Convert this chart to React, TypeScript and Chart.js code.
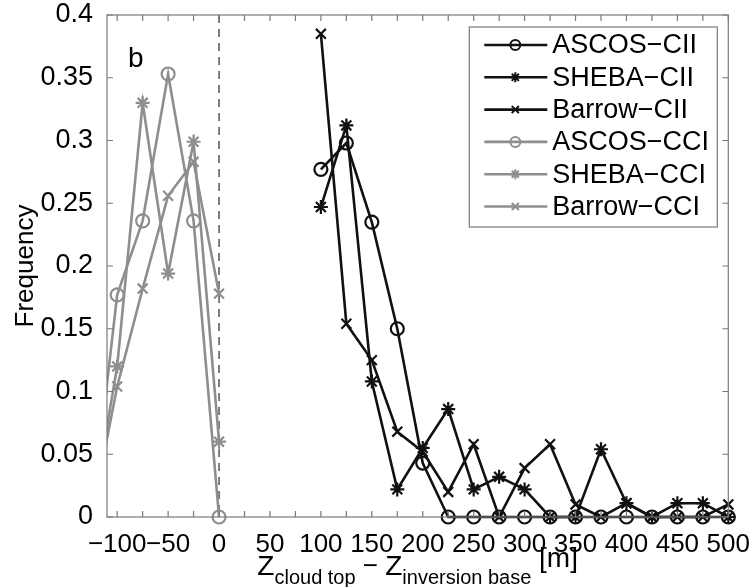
import React, { useEffect, useRef } from 'react';
import { Chart, registerables } from 'chart.js';

Chart.register(...registerables);

// ---- data ----
const cciX = [-125, -100, -75, -50, -25, 0];
const ascosCCI = [0, 0.177, 0.236, 0.353, 0.236, 0];
const shebaCCI = [0, 0.12, 0.33, 0.194, 0.299, 0.06];
const barrowCCI = [0, 0.104, 0.182, 0.256, 0.283, 0.178];

const ciiX = [100, 125, 150, 175, 200, 225, 250, 275, 300, 325, 350, 375, 400, 425, 450, 475, 500];
const ascosCII = [0.277, 0.298, 0.235, 0.15, 0.043, 0, 0, 0, 0, 0, 0, 0, 0, 0, 0, 0, 0];
const shebaCII = [0.247, 0.312, 0.108, 0.022, 0.055, 0.086, 0.022, 0.032, 0.022, 0, 0, 0.054, 0.011, 0, 0.011, 0.011, 0];
const barrowCII = [0.385, 0.154, 0.125, 0.068, 0.052, 0.02, 0.058, 0, 0.039, 0.058, 0.01, 0, 0.011, 0, 0, 0, 0.01];

const xTickLabels = [-100, -50, 0, 50, 100, 150, 200, 250, 300, 350, 400, 450, 500];
const xMinorTicks = [-100, -75, -50, -25, 0, 25, 50, 75, 100, 125, 150, 175, 200, 225, 250, 275, 300, 325, 350, 375, 400, 425, 450, 475, 500];
const yTickLabels = [0, 0.05, 0.1, 0.15, 0.2, 0.25, 0.3, 0.35, 0.4];

const FONT = "'Liberation Sans', Arial, Helvetica, sans-serif";
const BLACK = '#111111';
const GRAY = '#8e8e8e';

const toPts = (xs: number[], ys: number[]) => xs.map((x, i) => ({ x, y: ys[i] }));

function drawMarker(ctx: CanvasRenderingContext2D, style: string, x: number, y: number, r: number) {
  ctx.beginPath();
  if (style === 'circle') {
    ctx.arc(x, y, r, 0, Math.PI * 2);
  } else if (style === 'star') {
    for (let k = 0; k < 4; k++) {
      const a = (k * Math.PI) / 4;
      ctx.moveTo(x - r * Math.cos(a), y - r * Math.sin(a));
      ctx.lineTo(x + r * Math.cos(a), y + r * Math.sin(a));
    }
  } else {
    const d = r * Math.SQRT1_2;
    ctx.moveTo(x - d, y - d);
    ctx.lineTo(x + d, y + d);
    ctx.moveTo(x - d, y + d);
    ctx.lineTo(x + d, y - d);
  }
  ctx.stroke();
}

const decorPlugin = {
  id: 'decor',
  beforeDatasetsDraw(chart: any) {
    const { ctx, chartArea, scales } = chart;
    const x0 = scales.x.getPixelForValue(0);
    ctx.save();
    ctx.strokeStyle = '#000';
    ctx.lineWidth = 1;
    ctx.setLineDash([8, 6]);
    ctx.beginPath();
    ctx.moveTo(x0, chartArea.top);
    ctx.lineTo(x0, chartArea.bottom);
    ctx.stroke();
    ctx.restore();
  },
  afterDraw(chart: any) {
    const { ctx, chartArea, scales } = chart;
    const { left, right, top, bottom } = chartArea;
    ctx.save();
    // frame
    ctx.strokeStyle = '#7a7a7a';
    ctx.lineWidth = 1.2;
    ctx.strokeRect(left, top, right - left, bottom - top);
    // ticks
    const tl = 6;
    ctx.beginPath();
    xMinorTicks.forEach((v) => {
      const px = scales.x.getPixelForValue(v);
      ctx.moveTo(px, bottom);
      ctx.lineTo(px, bottom - tl);
      ctx.moveTo(px, top);
      ctx.lineTo(px, top + tl);
    });
    yTickLabels.forEach((v) => {
      const py = scales.y.getPixelForValue(v);
      ctx.moveTo(left, py);
      ctx.lineTo(left + tl, py);
      ctx.moveTo(right, py);
      ctx.lineTo(right - tl, py);
    });
    ctx.stroke();

    // panel letter
    ctx.fillStyle = '#000';
    ctx.font = `28px ${FONT}`;
    ctx.textBaseline = 'alphabetic';
    ctx.textAlign = 'left';
    ctx.fillText('b', left + 21, top + 52);

    // legend
    const bx1 = right - 259;
    const bx2 = right - 11;
    const by1 = top + 12;
    const by2 = top + 212;
    ctx.fillStyle = '#fff';
    ctx.fillRect(bx1, by1, bx2 - bx1, by2 - by1);
    ctx.strokeStyle = '#7a7a7a';
    ctx.lineWidth = 1.2;
    ctx.strokeRect(bx1, by1, bx2 - bx1, by2 - by1);
    ctx.font = `27px ${FONT}`;
    ctx.textBaseline = 'middle';
    chart.data.datasets.forEach((ds: any, i: number) => {
      const cy = by1 + 18 + i * 32.3;
      ctx.strokeStyle = ds.borderColor;
      ctx.lineWidth = ds.borderWidth;
      ctx.beginPath();
      ctx.moveTo(bx1 + 15, cy);
      ctx.lineTo(bx1 + 78, cy);
      ctx.stroke();
      ctx.lineWidth = 2;
      drawMarker(ctx, ds.pointStyle, bx1 + 46, cy, 5);
      ctx.fillStyle = '#000';
      ctx.fillText(ds.label, bx1 + 83, cy + 1);
    });

    // x axis title with subscripts
    const segs = [
      { t: 'Z', s: 28, dy: 0 },
      { t: 'cloud top', s: 20, dy: 9 },
      { t: ' \u2212 ', s: 26, dy: -1 },
      { t: 'Z', s: 28, dy: 0 },
      { t: 'inversion base', s: 20, dy: 9 },
      { t: ' [m]', s: 28, dy: -8 },
    ];
    ctx.textBaseline = 'alphabetic';
    let total = 0;
    segs.forEach((sg) => {
      ctx.font = `${sg.s}px ${FONT}`;
      total += ctx.measureText(sg.t).width;
    });
    let cx = (left + right) / 2 - total / 2;
    const base = 575;
    ctx.fillStyle = '#000';
    segs.forEach((sg) => {
      ctx.font = `${sg.s}px ${FONT}`;
      ctx.fillText(sg.t, cx, base + sg.dy);
      cx += ctx.measureText(sg.t).width;
    });
    ctx.restore();
  },
};

export default function App() {
  const ref = useRef<HTMLCanvasElement | null>(null);
  useEffect(() => {
    if (!ref.current) return;
    const common = {
      borderWidth: 2.6,
      pointBorderWidth: 2.2,
      pointBackgroundColor: 'rgba(0,0,0,0)',
      showLine: true,
      fill: false,
      tension: 0,
      clip: { left: 0, top: 10, right: 10, bottom: 10 },
    };
    const chart = new Chart(ref.current, {
      type: 'scatter',
      data: {
        datasets: [
          { ...common, label: 'ASCOS\u2212CII', data: toPts(ciiX, ascosCII), borderColor: BLACK, pointBorderColor: BLACK, pointStyle: 'circle', pointRadius: 6.5 },
          { ...common, label: 'SHEBA\u2212CII', data: toPts(ciiX, shebaCII), borderColor: BLACK, pointBorderColor: BLACK, pointStyle: 'star', pointRadius: 7 },
          { ...common, label: 'Barrow\u2212CII', data: toPts(ciiX, barrowCII), borderColor: BLACK, pointBorderColor: BLACK, pointStyle: 'crossRot', pointRadius: 7 },
          { ...common, label: 'ASCOS\u2212CCI', data: toPts(cciX, ascosCCI), borderColor: GRAY, pointBorderColor: GRAY, pointStyle: 'circle', pointRadius: 6.5 },
          { ...common, label: 'SHEBA\u2212CCI', data: toPts(cciX, shebaCCI), borderColor: GRAY, pointBorderColor: GRAY, pointStyle: 'star', pointRadius: 7 },
          { ...common, label: 'Barrow\u2212CCI', data: toPts(cciX, barrowCCI), borderColor: GRAY, pointBorderColor: GRAY, pointStyle: 'crossRot', pointRadius: 7 },
        ] as any,
      },
      options: {
        animation: false,
        responsive: true,
        maintainAspectRatio: false,
        layout: { padding: { top: 0, right: 23, left: 0, bottom: 0 } },
        plugins: { legend: { display: false }, tooltip: { enabled: false } },
        scales: {
          x: {
            type: 'linear',
            min: -110,
            max: 500,
            grid: { display: false },
            border: { display: false },
            afterBuildTicks: (s: any) => {
              s.ticks = xTickLabels.map((v) => ({ value: v }));
            },
            afterFit: (s: any) => {
              s.height = 70;
            },
            ticks: {
              autoSkip: false,
              maxRotation: 0,
              padding: 4,
              color: '#000',
              font: { family: FONT, size: 26 },
              callback: (v: any) => (v < 0 ? '\u2212' + Math.abs(v) : String(v)),
            },
          },
          y: {
            type: 'linear',
            min: 0,
            max: 0.4,
            grid: { display: false },
            border: { display: false },
            afterBuildTicks: (s: any) => {
              s.ticks = yTickLabels.map((v) => ({ value: v }));
            },
            afterFit: (s: any) => {
              s.width = 107;
              s.paddingTop = 15;
              s.paddingBottom = 0;
            },
            title: {
              display: true,
              text: 'Frequency',
              color: '#000',
              font: { family: FONT, size: 26 },
              padding: { top: 10, bottom: 0 },
            },
            ticks: {
              autoSkip: false,
              padding: 6,
              color: '#000',
              font: { family: FONT, size: 27 },
              callback: (v: any) => String(Number(Number(v).toFixed(2))),
            },
          },
        },
      } as any,
      plugins: [decorPlugin],
    });
    return () => chart.destroy();
  }, []);
  return (
    <div style={{ position: 'absolute', left: 0, top: 0, width: 754, height: 587, background: '#fff' }}>
      <canvas ref={ref} />
    </div>
  );
}
